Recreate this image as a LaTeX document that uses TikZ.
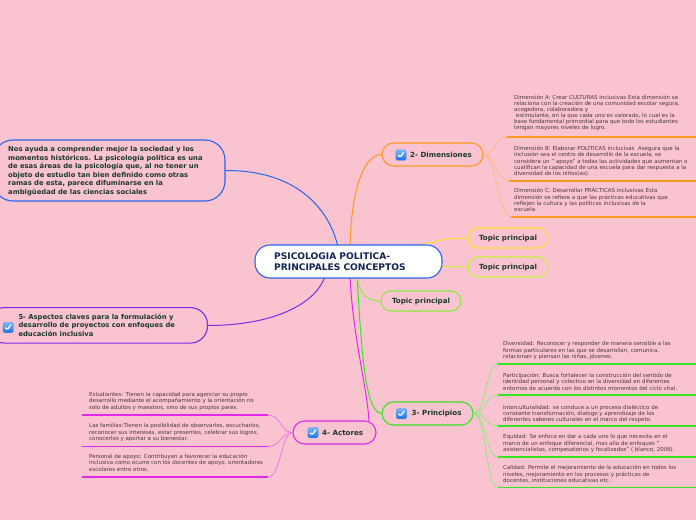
\documentclass[tikz,border=0pt]{standalone}
\usepackage{fontspec}
\setmainfont{DejaVu Sans}
\usetikzlibrary{calc}
\definecolor{bg}{RGB}{249,196,208}
\definecolor{cblue}{RGB}{40,100,232}
\definecolor{corange}{RGB}{255,152,30}
\definecolor{corangel}{RGB}{255,185,115}
\definecolor{cyellow}{RGB}{255,226,50}
\definecolor{cyg}{RGB}{200,240,60}
\definecolor{cgreenA}{RGB}{140,232,60}
\definecolor{cgreen}{RGB}{55,228,35}
\definecolor{cgreenl}{RGB}{135,235,115}
\definecolor{cmag}{RGB}{228,40,232}
\definecolor{cmagl}{RGB}{236,110,236}
\definecolor{cpurp}{RGB}{130,40,232}
\definecolor{tdark}{RGB}{28,56,46}
\definecolor{tnavy}{RGB}{20,35,82}
\definecolor{tgray}{RGB}{72,56,62}
\definecolor{chk}{RGB}{30,110,225}
\definecolor{chkl}{RGB}{120,185,250}
\definecolor{chkd}{RGB}{90,150,235}
\tikzset{
  box/.style={draw, fill=bg, line width=1.1pt, inner sep=0pt},
  boldtxt/.style={font=\fontsize{6.8}{8.5}\selectfont\bfseries, text=tdark, inner sep=0pt, anchor=west, align=left},
  lbl/.style={font=\fontsize{7.1}{8}\selectfont\bfseries, text=tdark, inner sep=0pt},
  item/.style={text=tgray, align=left, inner sep=0pt, anchor=north west},
  chkbox/.style={draw=chkd, line width=0.3pt, rounded corners=1.5pt, minimum size=10.5pt, inner sep=0pt,
    top color=chkl, bottom color=chk,
    path picture={\draw[white,line width=1.3pt,line cap=round,line join=round]
      ($(path picture bounding box.center)+(-2.8,0.2)$) -- ++(1.9,2.2) -- ++(3.4,-5);}},
  mainline/.style={line width=1pt},
  sub/.style={line width=0.7pt},
  ul/.style={line width=1.6pt},
}
\begin{document}
\begin{tikzpicture}[x=1pt,y=-1pt]
\useasboundingbox (0,0) rectangle (696,520);
\fill[bg] (0,0) rectangle (696,520);
\clip (0,0) rectangle (696,520);

% coordinates on the central topic
\coordinate (cB) at (338,247);
\coordinate (cO) at (350,247);
\coordinate (cP) at (325,276);
\coordinate (cM) at (350,276);
\coordinate (cG) at (357,276);
\coordinate (cY) at (415,247);
\coordinate (cYG) at (440,266.5);
\coordinate (actTop) at (369,423);

% ---------- main connectors ----------
\draw[mainline,cblue] (225,170.5) coordinate (ltE) .. controls (300,170) and (330,212) .. (cB);
\draw[mainline,corange] (382,154.5) coordinate (dimW) .. controls (362,154.5) and (351,195) .. (cO);
\draw[mainline,cpurp] (207.5,325.5) coordinate (aspE) .. controls (280,325.5) and (318,300) .. (cP);
\draw[mainline,cmag] (cM) .. controls (353,340) and (368,390) .. (actTop);
\draw[mainline,cgreen] (cG) .. controls (362,360) and (366,413.5) .. (382,413.5) coordinate (priW);
\draw[mainline,cgreenA] (cG) .. controls (360,296) and (368,301) .. (381,301) coordinate (t3W);
\draw[mainline,cyellow] (cY) .. controls (440,239) and (452,238) .. (468,238) coordinate (t1W);
\draw[mainline,cyg] (cYG) -- (468,267) coordinate (t2W);

% ---------- nodes ----------
\node[box, draw=cblue, fill=white, rounded corners=15pt, minimum width=187pt, minimum height=33pt] (c) at (348.5,261.5) {};
\node[font=\fontsize{9.1}{11.7}\selectfont\bfseries, text=tnavy, inner sep=0pt, anchor=west, align=left] (ct) at (274,261.8) {PSICOLOGIA POLITICA-\\PRINCIPALES CONCEPTOS};

\node[box, draw=cblue, rounded corners=20pt, minimum width=232pt, minimum height=61pt] (lt) at (109,170.5) {};
\node[boldtxt] (ltt) at (8,171.2) {Nos ayuda a comprender mejor la sociedad y los\\momentos históricos. La psicología política es una\\de esas áreas de la psicología que, al no tener un\\objeto de estudio tan bien definido como otras\\ramas de esta, parece difuminarse en la\\ambigüedad de las ciencias sociales};

\node[box, draw=cpurp, rounded corners=17pt, minimum width=220pt, minimum height=35.5pt] (asp) at (97.5,325.3) {};
\node[chkbox] (aspchk) at (8.2,327.5) {};
\node[boldtxt, font=\fontsize{6.8}{8.3}\selectfont\bfseries] (aspt) at (18.3,325.3) {5- Aspectos claves para la formulación y\\desarrollo de proyectos con enfoques de\\educación inclusiva};

\node[box, draw=corange, rounded corners=11.5pt, minimum width=101pt, minimum height=23pt] (dim) at (432.5,154.5) {};
\node[chkbox] (dimchk) at (401,155) {};
\node[lbl, anchor=west] (dimt) at (410,155) {2- Dimensiones};

\node[box, draw=cyellow, rounded corners=10pt, minimum width=80pt, minimum height=20pt] (t1) at (508,238) {};
\node[lbl] (t1t) at (508,238.3) {Topic principal};
\node[box, draw=cyg, rounded corners=10pt, minimum width=80pt, minimum height=20pt] (t2) at (508,267) {};
\node[lbl] (t2t) at (508,267.3) {Topic principal};
\node[box, draw=cgreenA, rounded corners=10pt, minimum width=80pt, minimum height=20pt] (t3) at (421,301) {};
\node[lbl] (t3t) at (421,301.3) {Topic principal};

\node[box, draw=cgreen, rounded corners=11.5pt, minimum width=91pt, minimum height=23pt] (pri) at (427.5,413.5) {};
\node[chkbox] (prichk) at (401.5,413.7) {};
\node[lbl, anchor=west] (prit) at (411.5,413.8) {3- Principios};

\node[box, draw=cmag, rounded corners=11.5pt, minimum width=83pt, minimum height=23pt] (act) at (334.5,432.5) {};
\node[chkbox] (actchk) at (313,432.7) {};
\node[lbl, anchor=west] (actt) at (322,432.8) {4- Actores};

% ---------- Dimensiones items ----------
\draw[sub,corangel] (dim.east) .. controls (495,154.5) and (495,137) .. (507,137) coordinate (dAs);
\draw[ul,corange] (dAs) -- (696,137) coordinate (dAe);
\draw[sub,corangel] (dim.east) .. controls (495,154.5) and (497,181) .. (509,181) coordinate (dBs);
\draw[ul,corange] (dBs) -- (696,181) coordinate (dBe);
\draw[sub,corangel] (dim.east) .. controls (495,154.5) and (499,217) .. (511,217) coordinate (dCs);
\draw[ul,corange] (dCs) -- (696,217) coordinate (dCe);

\node[item, font=\fontsize{5.5}{6.0}\selectfont] (dA) at (514,94.4) {Dimensión A: Crear CULTURAS inclusivas Esta dimensión se\\relaciona con la creación de una comunidad escolar segura,\\acogedora, colaboradora y\\\ estimulante, en la que cada uno es valorado, lo cual es la\\base fundamental primordial para que todo los estudiantes\\tengan mayores niveles de logro.};
\node[item, font=\fontsize{5.5}{6.35}\selectfont] (dB) at (514,145) {Dimensión B: Elaborar POLÍTICAS inclusivas\ \ Asegura que la\\inclusión sea el centro de desarrollo de la escuela, se\\considera un " apoyo" a todas las actividades que aumentan o\\cualifican la capacidad de una escuela para dar respuesta a la\\diversidad de los niños(as).};
\node[item, font=\fontsize{5.5}{6.35}\selectfont] (dC) at (514,187.4) {Dimensión C: Desarrollar PRÁCTICAS inclusivas Esta\\dimensión se refiere a que las prácticas educativas que\\reflejen la cultura y las políticas inclusivas de la\\escuela.};

% ---------- Principios items ----------
\foreach \yy/\nm in {364/pA,395/pB,426/pC,457/pD,487.5/pE}{
  \draw[sub,cgreenl] (pri.east) .. controls (486,413.5) and (486,\yy) .. (498,\yy) coordinate (\nm s);
  \draw[ul,cgreen] (\nm s) -- (696,\yy) coordinate (\nm e);
}
\node[item, font=\fontsize{5.5}{6.7}\selectfont] (pA) at (503,341) {Diversidad: Reconocer y responder de manera sensible a las\\formas particulares en las que se desarrollan, comunica,\\relacionan y piensan las niñas, jóvenes.};
\node[item, font=\fontsize{5.5}{6.7}\selectfont] (pB) at (503,372.4) {Participación: Busca fortalecer la construcción del sentido de\\identidad personal y colectivo en la diversidad en diferentes\\entornos de acuerdo con los distintos momentos del ciclo vital.};
\node[item, font=\fontsize{5.5}{6.4}\selectfont] (pC) at (503,404.4) {Interculturalidad: se conduce a un proceso dialéctico de\\constante transformación, dialogo y aprendizaje de los\\diferentes saberes culturales en el marco del respeto.};
\node[item, font=\fontsize{5.5}{6.5}\selectfont] (pD) at (503,434.4) {Equidad: Se enfoca en dar a cada uno lo que necesita en el\\marco de un enfoque diferencial, mas alla de enfoques "\\asistencialistas, compesatorios y focalizados" ( blanco, 2006).};
\node[item, font=\fontsize{5.5}{6.4}\selectfont] (pE) at (503,465.1) {Calidad: Permite el mejoramiento de la educación en todos los\\niveles, mejoramiento en los procesos y prácticas de\\docentes, instituciones educativas etc.};

% ---------- Actores items ----------
\foreach \yy/\nm in {415/aA,446.5/aB,477/aC}{
  \draw[sub,cmagl] (act.west) .. controls (281,432.5) and (281,\yy) .. (268,\yy) coordinate (\nm s);
  \draw[ul,cmag] (\nm s) -- (82,\yy) coordinate (\nm e);
}
\node[item, font=\fontsize{5.5}{6.7}\selectfont] (aA) at (89,391.8) {Estudiantes: Tienen la capacidad para agenciar su propio\\desarrollo mediante el acompañamiento y la orientación no\\solo de adultos y maestros, sino de sus propios pares.};
\node[item, font=\fontsize{5.5}{6.4}\selectfont] (aB) at (89,423.4) {Las familias:Tienen la posibilidad de observarlos, escucharlos,\\reconocer sus intereses, estar presentes, celebrar sus logros,\\conocerlos y aportar a su bienestar.};
\node[item, font=\fontsize{5.5}{6.7}\selectfont] (aC) at (89,453.4) {Personal de apoyo: Contribuyen a favorecer la educación\\inclusiva como ocurre con los docentes de apoyo, orientadores\\escolares entre otros.};
\end{tikzpicture}
\end{document}
